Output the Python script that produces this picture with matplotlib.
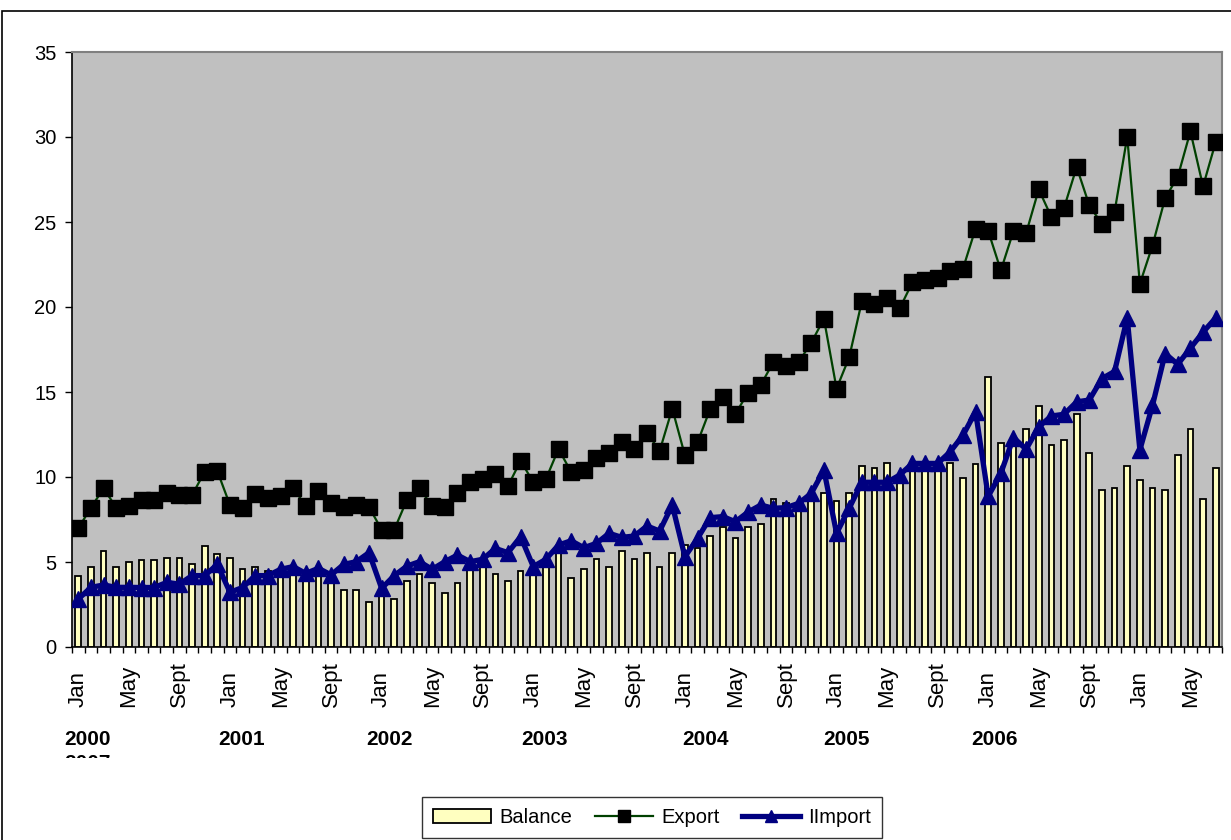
import numpy as np
import matplotlib
matplotlib.use("Agg")
import matplotlib.pyplot as plt
from matplotlib.patches import Rectangle
from matplotlib.transforms import Bbox, blended_transform_factory

plt.rcParams['font.family'] = ['Liberation Sans', 'DejaVu Sans']

# ---------------- data (Jan 2000 .. Jul 2007, monthly) ----------------
export = [6.98, 8.2, 9.33, 8.2, 8.29, 8.65, 8.65, 9.04, 8.94, 8.94, 10.3, 10.35,
          8.35, 8.2, 8.98, 8.78, 8.9, 9.33, 8.31, 9.2, 8.49, 8.25, 8.37, 8.24,
          6.9, 6.9, 8.65, 9.33, 8.29, 8.24, 9.04, 9.7, 9.88, 10.16, 9.47, 10.96,
          9.69, 9.88, 11.65, 10.29, 10.43, 11.14, 11.39, 12.06, 11.65, 12.61, 11.53, 14.02,
          11.27, 12.04, 14.0, 14.69, 13.72, 14.96, 15.41, 16.76, 16.55, 16.76, 17.9, 19.31,
          15.2, 17.04, 20.33, 20.2, 20.55, 19.92, 21.45, 21.59, 21.69, 22.14, 22.25, 24.61,
          24.47, 22.15, 24.47, 24.34, 26.92, 25.29, 25.83, 28.23, 25.98, 24.87, 25.6, 30.01,
          21.36, 23.62, 26.4, 27.66, 30.33, 27.1, 29.7]

imports = [2.82, 3.51, 3.65, 3.51, 3.51, 3.5, 3.5, 3.8, 3.7, 4.2, 4.2, 4.86,
           3.22, 3.5, 4.2, 4.2, 4.57, 4.73, 4.33, 4.63, 4.24, 4.86, 5.02, 5.55,
           3.45, 4.2, 4.76, 5.02, 4.57, 5.02, 5.41, 5.02, 5.16, 5.8, 5.55, 6.49,
           4.73, 5.16, 6.0, 6.25, 5.84, 6.1, 6.69, 6.45, 6.53, 7.12, 6.82, 8.35,
           5.31, 6.39, 7.61, 7.67, 7.37, 7.94, 8.35, 8.16, 8.2, 8.45, 9.04, 10.41,
           6.69, 8.16, 9.69, 9.69, 9.69, 10.12, 10.8, 10.8, 10.8, 11.49, 12.45, 13.84,
           8.86, 10.22, 12.32, 11.63, 12.95, 13.59, 13.69, 14.42, 14.53, 15.79, 16.21, 19.36,
           11.59, 14.21, 17.26, 16.63, 17.58, 18.52, 19.36]

balance = [4.18, 4.73, 5.67, 4.73, 4.99, 5.13, 5.13, 5.25, 5.25, 4.88, 5.96, 5.45,
           5.25, 4.58, 4.73, 4.5, 4.4, 4.6, 3.89, 4.4, 3.94, 3.37, 3.37, 2.65,
           3.3, 2.8, 3.88, 4.29, 3.75, 3.16, 3.75, 4.57, 4.73, 4.29, 3.88, 4.47,
           4.6, 4.73, 5.65, 4.04, 4.57, 5.16, 4.73, 5.67, 5.16, 5.55, 4.73, 5.55,
           5.98, 5.8, 6.55, 7.08, 6.39, 7.08, 7.22, 8.73, 8.49, 8.3, 8.75, 9.04,
           8.59, 9.04, 10.65, 10.51, 10.8, 9.8, 10.7, 10.8, 10.9, 10.8, 9.96, 10.79,
           15.9, 12.0, 12.2, 12.8, 14.2, 11.86, 12.18, 13.69, 11.44, 9.24, 9.38, 10.64,
           9.8, 9.38, 9.24, 11.32, 12.8, 8.71, 10.54]

month_labels = ["Jan", "May", "Sept"]
year_labels = ["2000", "2001", "2002", "2003", "2004", "2005", "2006"]
hidden_year = "2007"
y_ticks = [0, 5, 10, 15, 20, 25, 30, 35]

# layout (category units) for the year captions
year_pos = [0.75, 12.9, 24.6, 36.9, 49.6, 60.8, 72.5]

# ---------------- figure ----------------
W, H = 1231, 840
fig = plt.figure(figsize=(W / 100, H / 100), dpi=100)
fig.patch.set_facecolor('white')
ax = fig.add_axes([72 / W, 1 - 647 / H, (1222 - 72) / W, (647 - 52) / H])
ax.set_facecolor('#C0C0C0')

n = len(export)
x = np.arange(n)

bars = ax.bar(x, balance, width=0.45, color='#FFFFC0', edgecolor='black',
              linewidth=1.3, zorder=2, label='Balance')
l_exp, = ax.plot(x, export, color='#004000', lw=1.6, marker='s', ms=11,
                 mfc='black', mec='black', zorder=3, label='Export')
l_imp, = ax.plot(x, imports, color='#000080', lw=3.8, marker='^', ms=12,
                 mfc='#000080', mec='#000080', zorder=4, label='IImport')

ax.set_xlim(-0.5, n - 0.5)
ax.set_ylim(0, 35)

# y axis
ax.set_yticks(y_ticks)
ax.set_yticklabels([str(v) for v in y_ticks])
ax.tick_params(axis='y', direction='out', length=5, width=1, pad=6,
               labelsize=14.5, colors='black')

# x axis: labels every 4 months, small ticks at category boundaries
label_idx = np.arange(0, n, 4)
ax.set_xticks(label_idx)
ax.set_xticklabels([month_labels[(i // 4) % 3] for i in label_idx])
ax.set_xticks(np.arange(-0.5, n, 1), minor=True)
ax.tick_params(axis='x', which='minor', direction='out', length=4, width=1)
ax.tick_params(axis='x', which='major', length=0, pad=43, labelsize=16)
for lab in ax.get_xticklabels():
    lab.set_rotation(90)
    lab.set_verticalalignment('bottom')
    lab.set_horizontalalignment('center')

for side in ['left', 'bottom']:
    ax.spines[side].set_color('black')
    ax.spines[side].set_linewidth(1.2)
for side in ['top', 'right']:
    ax.spines[side].set_color('#808080')
    ax.spines[side].set_linewidth(1.5)

# year captions
trans = blended_transform_factory(ax.transData, ax.transAxes)
for pos, yr in zip(year_pos, year_labels):
    ax.text(pos, -0.156, yr, transform=trans, ha='center', va='center',
            fontsize=15, fontweight='bold', clip_on=False)
t7 = ax.text(year_pos[0], -0.196, hidden_year, transform=trans, ha='center',
             va='center', fontsize=15, fontweight='bold', clip_on=True)
t7.set_clip_box(Bbox.from_extents(0, H - 758, W, H))

# legend
leg = fig.legend([bars.patches[0], l_exp, l_imp], ['Balance', 'Export', 'IImport'],
                 loc='upper left', bbox_to_anchor=(422 / W, 1 - 797 / H),
                 ncol=3, fontsize=14.5, frameon=True, fancybox=False,
                 edgecolor='black', handlelength=2.9, handletextpad=0.4,
                 columnspacing=1.1, borderpad=0.55, markerscale=0.75,
                 borderaxespad=0)
leg.get_frame().set_linewidth(1.0)

# outer frame
fig.patches.append(Rectangle((1.5 / W, -0.2), 1.5, 1.2 + (1 - 10.5 / H) - 1.0,
                             transform=fig.transFigure, fill=False,
                             edgecolor='black', lw=1.2))

fig.savefig('out.png', dpi=100)
